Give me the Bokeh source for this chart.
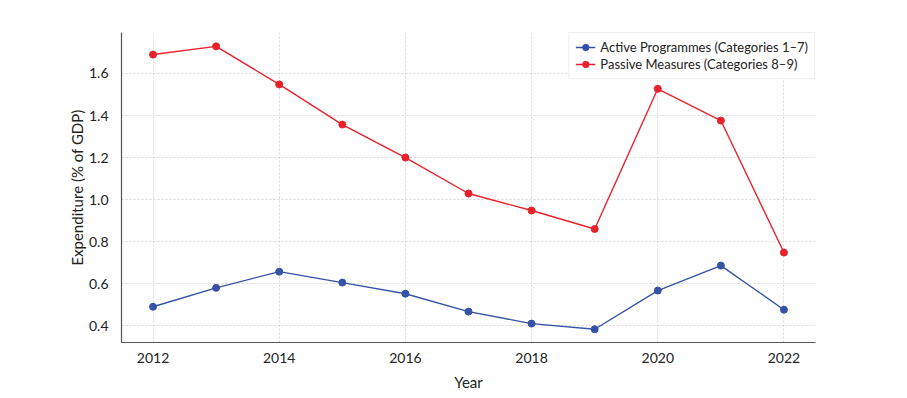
from bokeh.plotting import figure
from bokeh.models import Range1d, Legend, LegendItem, FixedTicker, CustomJSTickFormatter
from bokeh.embed import file_html
from bokeh.resources import INLINE

years = [2012, 2013, 2014, 2015, 2016, 2017, 2018, 2019, 2020, 2021, 2022]
active = [0.49, 0.58, 0.657, 0.605, 0.552, 0.467, 0.41, 0.383, 0.567, 0.686, 0.476]
passive = [1.69, 1.729, 1.548, 1.357, 1.2, 1.029, 0.948, 0.86, 1.527, 1.376, 0.748]
x_ticks = [2012, 2014, 2016, 2018, 2020, 2022]
y_ticks = [0.4, 0.6, 0.8, 1.0, 1.2, 1.4, 1.6]

BLUE = "#3652a6"
RED = "#e8212b"
FONT = "Lato"

p = figure(frame_width=694, frame_height=310, output_backend="svg", toolbar_location=None,
           x_range=Range1d(2011.5, 2022.5), y_range=Range1d(0.32, 1.795),
           min_border_left=121, min_border_right=84, min_border_top=32, min_border_bottom=48)
p.outline_line_color = None
p.background_fill_color = "white"

for ax in (p.xaxis[0], p.yaxis[0]):
    ax.axis_line_color = "#555555"
    ax.axis_line_width = 1.2
    ax.major_tick_line_color = None
    ax.minor_tick_line_color = None
    ax.major_label_text_font = FONT
    ax.major_label_text_font_size = "14px"
    ax.major_label_text_color = "#222222"
    ax.axis_label_text_font = FONT
    ax.axis_label_text_font_size = "15px"
    ax.axis_label_text_font_style = "normal"
    ax.axis_label_text_color = "#222222"

p.xaxis.ticker = FixedTicker(ticks=x_ticks)
p.yaxis.ticker = FixedTicker(ticks=y_ticks)
p.yaxis.formatter = CustomJSTickFormatter(code="return tick.toFixed(1);")
p.xaxis.axis_label = "Year"
p.yaxis.axis_label = "Expenditure (% of GDP)"
p.xaxis.major_label_standoff = 4
p.yaxis.major_label_standoff = 7
p.xaxis.axis_label_standoff = 7
p.yaxis.axis_label_standoff = 0

p.xgrid.grid_line_color = "#d8d8d8"
p.ygrid.grid_line_color = "#d8d8d8"
p.xgrid.grid_line_dash = "2 2"
p.ygrid.grid_line_dash = "2 2"

l1 = p.line(years, active, line_color=BLUE, line_width=1.4)
c1 = p.scatter(years, active, size=7, fill_color=BLUE, line_color=BLUE)
l2 = p.line(years, passive, line_color=RED, line_width=1.4)
c2 = p.scatter(years, passive, size=7, fill_color=RED, line_color=RED)

legend = Legend(items=[
    LegendItem(label="Active Programmes (Categories 1\u20137)", renderers=[l1, c1]),
    LegendItem(label="Passive Measures (Categories 8\u20139)", renderers=[l2, c2]),
], location="top_right")
legend.label_text_font = FONT
legend.label_text_font_size = "13px"
legend.label_text_color = "#222222"
legend.border_line_color = "#dddddd"
legend.border_line_width = 1
legend.glyph_width = 20
legend.glyph_height = 16
legend.spacing = 1
legend.padding = 6
legend.margin = 0
legend.label_standoff = 5
legend.label_height = 16
p.add_layout(legend)

open("out.html", "w").write(file_html(p, INLINE))
